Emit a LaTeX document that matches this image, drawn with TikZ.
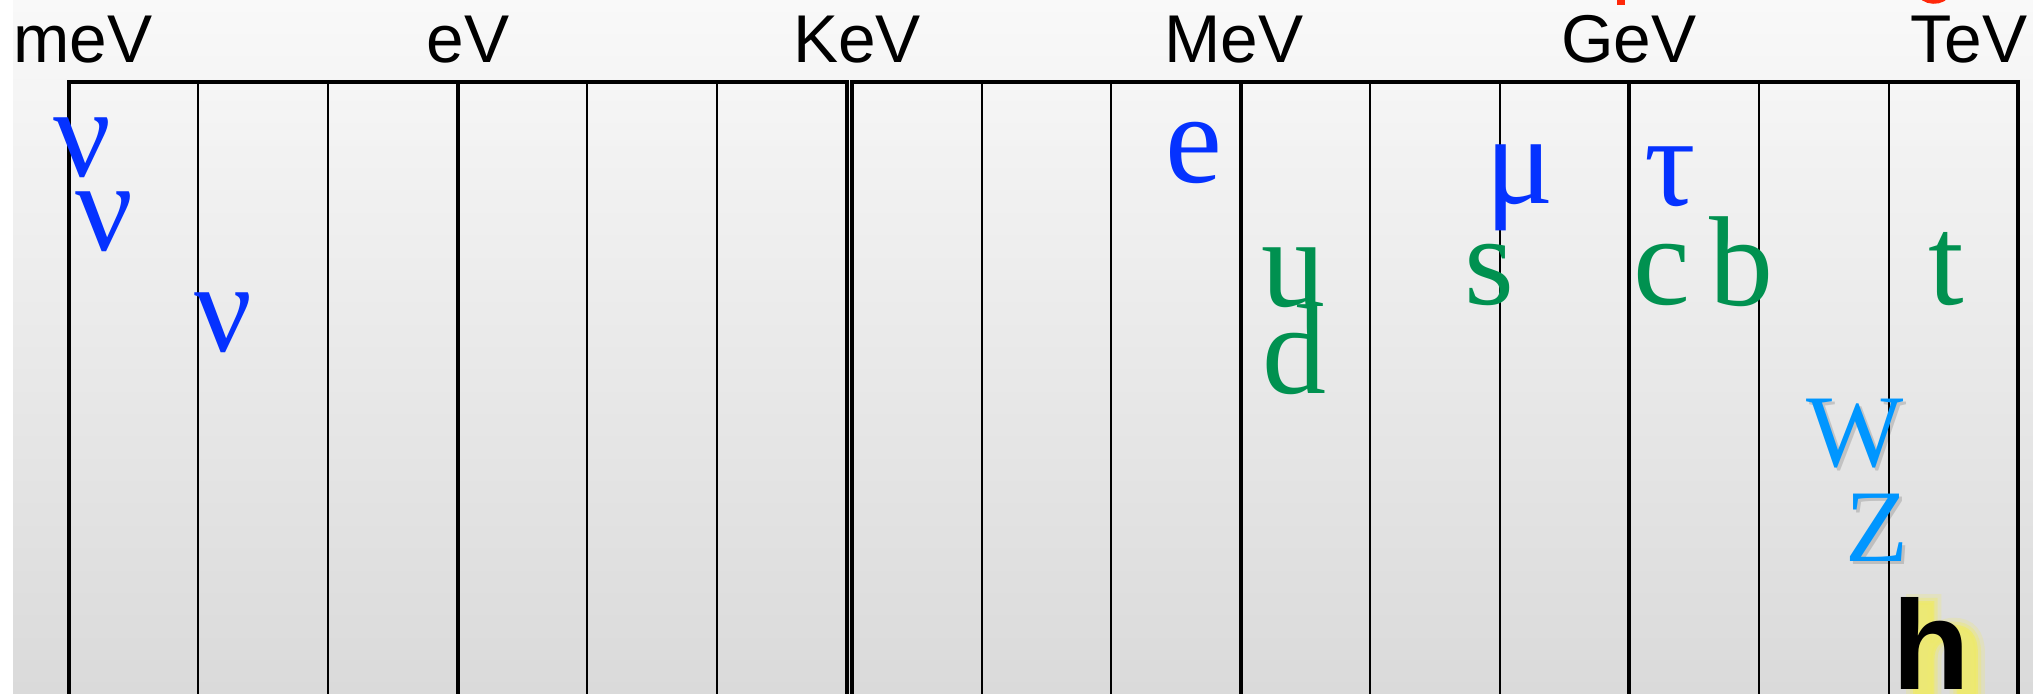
\documentclass[tikz,border=0pt]{standalone}
\usepackage{fontspec}
\setmainfont{Liberation Serif}
\newfontfamily\unitfont{Liberation Sans}
\newfontfamily\glowwide[FakeBold=14]{Liberation Sans Bold}
\newfontfamily\glowmid[FakeBold=8]{Liberation Sans Bold}
\newfontfamily\glowthin[FakeBold=3]{Liberation Sans Bold}
\definecolor{leptonblue}{RGB}{5,50,255}
\definecolor{quarkgreen}{RGB}{0,145,80}
\definecolor{bosonblue}{RGB}{0,150,255}
\definecolor{glowyellow}{RGB}{238,234,110}
\definecolor{titlered}{RGB}{255,40,10}
\definecolor{bgtop}{RGB}{249,249,249}
\definecolor{bgbottom}{RGB}{218,218,218}
\tikzset{
  unitlabel/.style={anchor=base, inner sep=0pt, font=\unitfont\fontsize{33.8}{38}\selectfont},
  lepton/.style={anchor=base, inner sep=0pt, text=leptonblue, font=\fontsize{64}{70}\selectfont},
  quark/.style={anchor=base, inner sep=0pt, text=quarkgreen, font=\fontsize{64}{70}\selectfont},
  boson/.style={anchor=base, inner sep=0pt, text=bosonblue, font=\fontsize{51.5}{56}\selectfont},
  bosonshadow/.style={anchor=base, inner sep=0pt, text=black, text opacity=0.15, font=\fontsize{51.5}{56}\selectfont},
  higgs/.style={anchor=base, inner sep=0pt, font=\unitfont\bfseries\fontsize{63.5}{70}\selectfont},
  glowlayer/.style={anchor=base, inner sep=0pt, text=glowyellow},
  decade/.style={line width=2pt},
  subdecade/.style={line width=1pt},
}
\begin{document}
\begin{tikzpicture}[x=0.5pt,y=-0.5pt]
\useasboundingbox (0,0) rectangle (2033,693);
\clip (0,0) rectangle (2033,693);
% slide background
\fill[white] (0,0) rectangle (2033,693);
\shade[top color=bgtop, bottom color=bgbottom] (13,0) rectangle (2033,693);

% descenders of the red heading above
\fill[titlered] (1617,-4) rectangle (1625,5);
\draw[titlered, line width=3pt] (1919,-10) .. controls (1921,4) and (1945,4) .. (1948,-8);

% energy scale: one column per decade
\foreach \x in {198.2,327.9,587.3,717} \draw[subdecade] (\x,81.5) -- (\x,700);
\foreach \x in {981.5,1111,1370.2,1499.8,1759,1888.6} \draw[subdecade] (\x,81.5) -- (\x,700);
\foreach \x in {457.6,1240.6,1629.4} \draw[decade] (\x,81.5) -- (\x,700);
\draw[decade] (68.5,700) -- (68.5,81.5) -- (846.7,81.5) -- (846.7,700);
\draw[decade] (851.8,700) -- (851.8,81.5) -- (2018.2,81.5) -- (2018.2,700);

% decade labels
\node[unitlabel] (meV) at (83,62) {meV};
\node[unitlabel] (eV)  at (468,62) {eV};
\node[unitlabel] (KeV) at (857,62) {KeV};
\node[unitlabel] (MeV) at (1234,62) {MeV};
\node[unitlabel] (GeV) at (1629,62) {GeV};
\node[unitlabel] (TeV) at (1969,62) {TeV};

% leptons
\node[lepton] (nu1) at (82,176) {ν};
\node[lepton] (nu2) at (104.5,250) {ν};
\node[lepton] (nu3) at (223,351) {ν};
\node[lepton] (el)  at (1194,182) {e};
\node[lepton] (mu)  at (1520,203) {μ};
\node[lepton] (tau) at (1670,205) {τ};

% quarks
\node[quark] (qu) at (1293,306) {u};
\node[quark] (qd) at (1294,393) {d};
\node[quark] (qs) at (1489,304) {s};
\node[quark] (qc) at (1662,304) {c};
\node[quark] (qb) at (1741,305) {b};
\node[quark] (qt) at (1946,304) {t};

% gauge bosons
\node[bosonshadow] (Wshadow) at (1858,469) {W};
\node[bosonshadow] (Zshadow) at (1880,564) {Z};
\node[boson] (W) at (1855,466) {W};
\node[boson] (Z) at (1877,561) {Z};

% Higgs with its soft yellow glow
\node[glowlayer, text opacity=0.25, font=\glowwide\fontsize{63.5}{70}\selectfont] (hglowa) at (1945,695) {h};
\node[glowlayer, text opacity=0.4, font=\glowmid\fontsize{63.5}{70}\selectfont] (hglowb) at (1945,695) {h};
\node[glowlayer, text opacity=0.8, font=\glowthin\fontsize{63.5}{70}\selectfont] (hglowc) at (1945,695) {h};
\node[higgs] (h) at (1931,689) {h};
\end{tikzpicture}
\end{document}
